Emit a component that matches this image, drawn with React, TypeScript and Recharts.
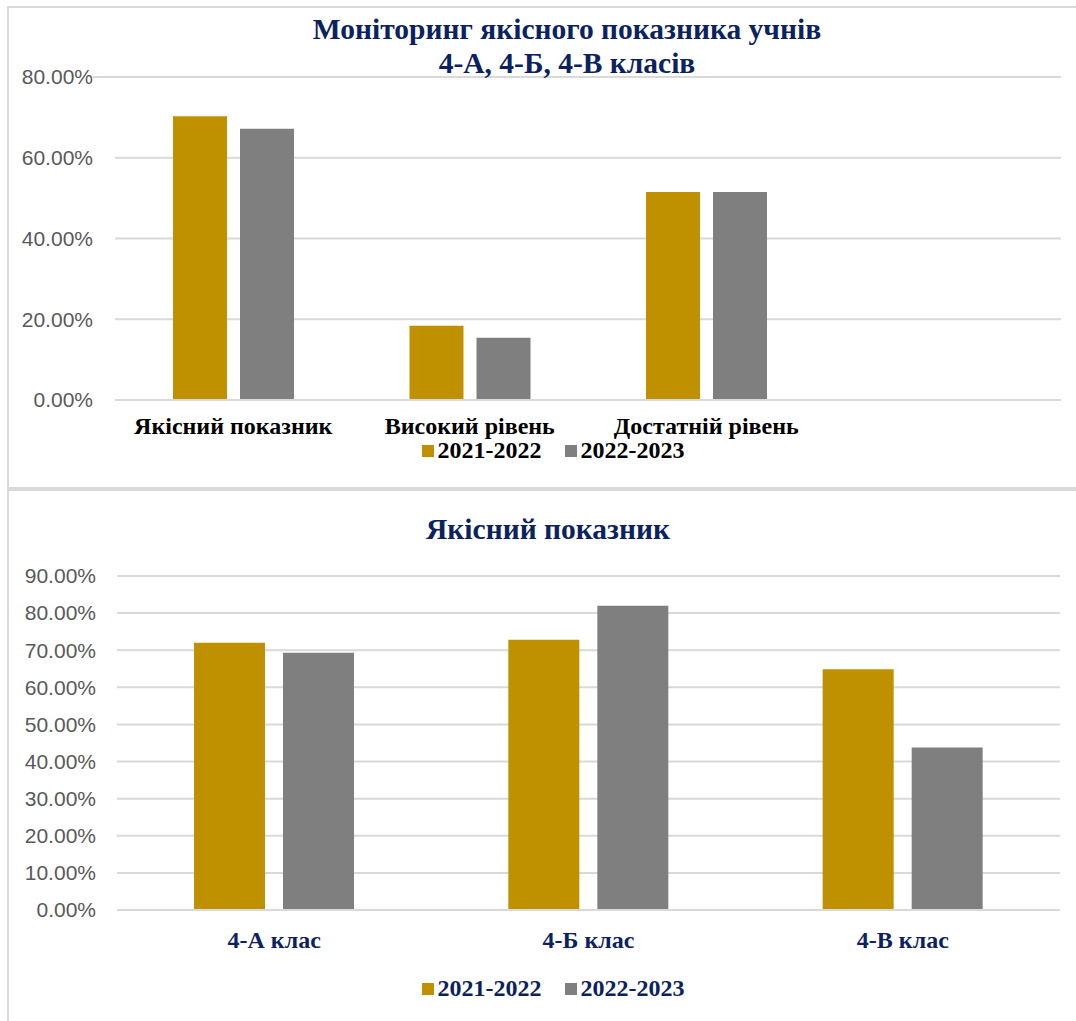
import React from 'react';
import { BarChart, Bar, XAxis, YAxis, CartesianGrid, Legend } from 'recharts';

const topCategories = ['Якісний показник', 'Високий рівень', 'Достатній рівень', ''];
const top2021 = [70.3, 18.4, 51.5, null];
const top2022 = [67.2, 15.4, 51.5, null];
const topTicks = [0, 20, 40, 60, 80];

const bottomCategories = ['4-А клас', '4-Б клас', '4-В клас'];
const bottom2021 = [72.0, 72.8, 64.9];
const bottom2022 = [69.3, 82.0, 43.8];
const bottomTicks = [0, 10, 20, 30, 40, 50, 60, 70, 80, 90];

const seriesNames = ['2021-2022', '2022-2023'];
const GOLD = '#BF9000';
const GRAY = '#7F7F7F';
const NAVY = '#0B2260';
const GRID = '#D9D9D9';
const SERIF = '"Liberation Serif", "Times New Roman", serif';
const SANS = '"Liberation Sans", Arial, sans-serif';
const TOP_MARGIN = 77;

const topData = topCategories.map((c, i) => ({ name: c, a: top2021[i], b: top2022[i] }));
const bottomData = bottomCategories.map((c, i) => ({ name: c, a: bottom2021[i], b: bottom2022[i] }));

const fmt = (v: number) => v.toFixed(2) + '%';

const makeYTick = (shift: number) => (props: any) => {
  const { x, y, payload } = props;
  return (
    <text x={x + shift} y={y} dy="0.35em" textAnchor="end" fill="#595959" fontFamily={SANS} fontSize={21}>
      {fmt(payload.value)}
    </text>
  );
};

const makeXTick = (dy: number, color: string) => (props: any) => {
  const { x, y, payload } = props;
  return (
    <text x={x} y={y + dy} textAnchor="middle" fill={color} fontFamily={SERIF} fontWeight="bold" fontSize={24}>
      {payload.value}
    </text>
  );
};

// top gridline of the upper chart runs out to the tick label, as in the source
const topGridLine = (p: any) => {
  const isTop = Math.abs(Number(p.y1) - TOP_MARGIN) < 1.5;
  return (
    <line key={p.key} x1={isTop ? p.x1 - 22 : p.x1} y1={p.y1} x2={p.x2} y2={p.y2} stroke={GRID} strokeWidth={2} />
  );
};

const makeLegend = (color: string) => () => (
  <div style={{ display: 'flex', justifyContent: 'center', alignItems: 'center', fontFamily: SERIF, fontWeight: 'bold', fontSize: 24, color }}>
    {seriesNames.map((n, i) => (
      <div key={n} style={{ display: 'flex', alignItems: 'center', marginRight: i === 0 ? 23 : 0 }}>
        <span style={{ display: 'inline-block', width: 12, height: 12, background: i === 0 ? GOLD : GRAY, marginRight: 4 }} />
        <span>{n}</span>
      </div>
    ))}
  </div>
);

export default function App() {
  return (
    <div style={{ position: 'absolute', left: 0, top: 0, width: 1076, height: 1021, overflow: 'hidden', background: '#fff' }}>
      <div style={{ position: 'absolute', left: 7, top: 6, width: 1100, height: 481, border: `2px solid ${GRID}` }} />
      <div style={{ position: 'absolute', left: 7, top: 487, width: 1100, height: 600, border: `2px solid ${GRID}` }} />

      <div style={{ position: 'absolute', left: 0, top: 0, width: 1076, height: 488 }}>
        <BarChart width={1076} height={488} data={topData} margin={{ top: TOP_MARGIN, right: 15, left: 0, bottom: 57 }} barSize={54} barGap={13}>
          <CartesianGrid vertical={false} stroke={GRID} strokeWidth={2} horizontal={topGridLine} />
          <XAxis dataKey="name" axisLine={{ stroke: GRID, strokeWidth: 2 }} tickLine={false} height={31} tick={makeXTick(26, '#000')} interval={0} />
          <YAxis width={115} domain={[0, 80]} ticks={topTicks} axisLine={false} tickLine={false} tick={makeYTick(-14)} />
          <Legend layout="horizontal" verticalAlign="middle" align="center" content={makeLegend('#000')} wrapperStyle={{ top: 437, left: 0, width: 1106 }} />
          <Bar dataKey="a" name={seriesNames[0]} fill={GOLD} isAnimationActive={false} />
          <Bar dataKey="b" name={seriesNames[1]} fill={GRAY} isAnimationActive={false} />
        </BarChart>
        <div style={{ position: 'absolute', left: 0, top: 12, width: 1134, textAlign: 'center', fontFamily: SERIF, fontWeight: 'bold', fontSize: 29.5, lineHeight: '34px', color: NAVY }}>
          Моніторинг якісного показника учнів<br />4-А, 4-Б, 4-В класів
        </div>
      </div>

      <div style={{ position: 'absolute', left: 0, top: 488, width: 1076, height: 533 }}>
        <BarChart width={1076} height={533} data={bottomData} margin={{ top: 88, right: 16, left: 0, bottom: 71 }} barSize={71} barGap={18}>
          <CartesianGrid vertical={false} stroke={GRID} strokeWidth={2} />
          <XAxis dataKey="name" axisLine={{ stroke: GRID, strokeWidth: 2 }} tickLine={false} height={40} tick={makeXTick(30, NAVY)} interval={0} />
          <YAxis width={117} domain={[0, 90]} ticks={bottomTicks} axisLine={false} tickLine={false} tick={makeYTick(-13)} />
          <Legend layout="horizontal" verticalAlign="middle" align="center" content={makeLegend(NAVY)} wrapperStyle={{ top: 487, left: 0, width: 1106 }} />
          <Bar dataKey="a" name={seriesNames[0]} fill={GOLD} isAnimationActive={false} />
          <Bar dataKey="b" name={seriesNames[1]} fill={GRAY} isAnimationActive={false} />
        </BarChart>
        <div style={{ position: 'absolute', left: 0, top: 24, width: 1096, textAlign: 'center', fontFamily: SERIF, fontWeight: 'bold', fontSize: 29.5, lineHeight: '34px', color: NAVY }}>
          Якісний показник
        </div>
      </div>
    </div>
  );
}
